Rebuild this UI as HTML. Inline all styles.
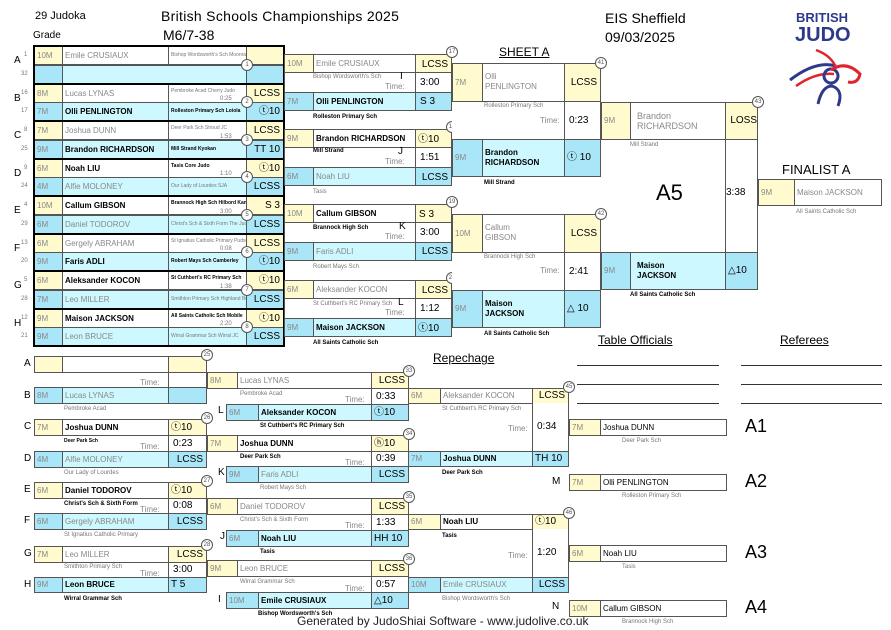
<!DOCTYPE html>
<html><head><meta charset="utf-8"><style>
*{margin:0;padding:0}
body{width:891px;height:630px;position:relative;background:#fff;font-family:"Liberation Sans",sans-serif;overflow:hidden}
div{position:absolute}
.c{box-sizing:border-box;border:1px solid #555;overflow:hidden;white-space:nowrap;font-size:8px;padding-left:2px;color:#000}
.y{background:#fffbcf}.w{background:#fff}.l{background:#cdf8ff}.d{background:#a9e6f7}
.gr{color:#888}.b{font-weight:bold}
.sc{text-align:right;padding-right:3px;font-size:10px}
.t{white-space:nowrap;font-size:6px;color:#777}
.tb{white-space:nowrap;font-size:6px;font-weight:bold;color:#000}
.o{width:10px;height:10px;border:1px solid #555;border-radius:50%;background:#fff;font-size:6px;text-align:center;line-height:10px;color:#555}
.k{box-sizing:border-box;border:2px solid #000}
.lt{font-size:10px;color:#000}
.tm{font-size:8px;color:#888;text-align:right;white-space:nowrap}
.tv{box-sizing:border-box;border:1px solid #555;background:#fff;font-size:10px;padding-left:4px}
.hl{height:1px;background:#333}
.vl{width:1px;background:#555}
</style></head><body>

<div style="left:35px;top:10px;font-size:11px">29 Judoka</div>
<div style="left:161px;top:8px;font-size:14px;letter-spacing:0.3px">British Schools Championships 2025</div>
<div style="left:163px;top:27px;font-size:14px">M6/7-38</div>
<div style="left:33px;top:30px;font-size:10px">Grade</div>
<div style="left:605px;top:10px;font-size:14px">EIS Sheffield</div>
<div style="left:605px;top:29px;font-size:14px">09/03/2025</div>
<div style="left:796px;top:10px;font-size:13px;font-weight:bold;color:#2d3a8c">BRITISH</div>
<div style="left:795px;top:24px;font-size:20px;font-weight:bold;color:#2d3a8c">JUDO</div>
<svg style="position:absolute;left:786px;top:46px" width="80" height="62" viewBox="0 0 80 62">
<path d="M4 34 Q30 14 50 20" stroke="#2d3a8c" stroke-width="3" fill="none"/>
<path d="M10 40 Q30 26 48 28" stroke="#e0232e" stroke-width="2.5" fill="none"/>
<path d="M30 4 Q46 10 50 22" stroke="#e0232e" stroke-width="2.5" fill="none"/>
<circle cx="45" cy="30" r="7" fill="none" stroke="#2d3a8c" stroke-width="3"/>
<path d="M45 24 Q60 14 74 28 Q72 38 62 36" stroke="#e0232e" stroke-width="3" fill="none"/>
<path d="M32 58 Q36 40 46 40 Q58 44 52 60" stroke="#2d3a8c" stroke-width="3" fill="none"/>
</svg>
<div style="left:499px;top:45px;font-size:12px;text-decoration:underline">SHEET A</div>

<!-- Round 1 -->
<div class="lt" style="left:14px;top:55px">A</div>
<div class="lt" style="left:14px;top:93px">B</div>
<div class="lt" style="left:14px;top:130px">C</div>
<div class="lt" style="left:14px;top:168px">D</div>
<div class="lt" style="left:14px;top:205px">E</div>
<div class="lt" style="left:14px;top:243px">F</div>
<div class="lt" style="left:14px;top:280px">G</div>
<div class="lt" style="left:14px;top:318px">H</div>

<!-- pair A -->
<div class="t" style="left:24px;top:52px">1</div><div class="t" style="left:21px;top:71px">32</div>
<div class="c y gr" style="left:34px;top:46px;width:29px;height:19px;line-height:17px">10M</div>
<div class="c w gr" style="left:62px;top:46px;width:107px;height:19px;line-height:17px">Emile CRUSIAUX</div>
<div class="c w t" style="left:168px;top:46px;width:79px;height:19px;line-height:17px;font-size:5px">Bishop Wordsworth's Sch Moonrakers JC</div>
<div class="c y" style="left:246px;top:46px;width:38px;height:19px"></div>
<div class="c d" style="left:34px;top:65px;width:29px;height:19px"></div>
<div class="c l" style="left:62px;top:65px;width:185px;height:19px"></div>
<div class="c d" style="left:246px;top:65px;width:38px;height:19px"></div>
<div class="o" style="left:241px;top:59px">1</div>
<div class="k" style="left:33px;top:45px;width:252px;height:40px"></div>
<!-- pair B -->
<div class="t" style="left:21px;top:90px">16</div><div class="t" style="left:21px;top:108px">17</div>
<div class="c y gr" style="left:34px;top:84px;width:29px;height:19px;line-height:17px">8M</div>
<div class="c w gr" style="left:62px;top:84px;width:107px;height:19px;line-height:17px">Lucas LYNAS</div>
<div class="c w t" style="left:168px;top:84px;width:79px;height:19px;line-height:12px;font-size:5px">Pembroke Acad Cherry Judo</div>
<div class="c y sc" style="left:246px;top:84px;width:38px;height:19px;line-height:17px">LCSS</div>
<div class="c d gr" style="left:34px;top:102px;width:29px;height:19px;line-height:17px">7M</div>
<div class="c l b" style="left:62px;top:102px;width:107px;height:19px;line-height:17px">Olli PENLINGTON</div>
<div class="c l tb" style="left:168px;top:102px;width:79px;height:19px;line-height:17px;font-size:5px">Rolleston Primary Sch Loiola</div>
<div class="c d sc" style="left:246px;top:102px;width:38px;height:19px;line-height:17px">ⓣ10</div>
<div class="t" style="left:220px;top:96px">0:25</div><div class="o" style="left:241px;top:96px">2</div>
<div class="k" style="left:33px;top:83px;width:252px;height:39px"></div>
<!-- pair C -->
<div class="t" style="left:24px;top:127px">8</div><div class="t" style="left:21px;top:146px">25</div>
<div class="c y gr" style="left:34px;top:121px;width:29px;height:19px;line-height:17px">7M</div>
<div class="c w gr" style="left:62px;top:121px;width:107px;height:19px;line-height:17px">Joshua DUNN</div>
<div class="c w t" style="left:168px;top:121px;width:79px;height:19px;line-height:12px;font-size:5px">Deer Park Sch Stroud JC</div>
<div class="c y sc" style="left:246px;top:121px;width:38px;height:19px;line-height:17px">LCSS</div>
<div class="c d gr" style="left:34px;top:140px;width:29px;height:19px;line-height:17px">9M</div>
<div class="c l b" style="left:62px;top:140px;width:107px;height:19px;line-height:17px">Brandon RICHARDSON</div>
<div class="c l tb" style="left:168px;top:140px;width:79px;height:19px;line-height:17px;font-size:5px">Mill Strand Kyokan</div>
<div class="c d sc" style="left:246px;top:140px;width:38px;height:19px;line-height:17px">TT 10</div>
<div class="t" style="left:220px;top:134px">1:53</div><div class="o" style="left:241px;top:134px">3</div>
<div class="k" style="left:33px;top:120px;width:252px;height:40px"></div>
<!-- pair D -->
<div class="t" style="left:24px;top:165px">9</div><div class="t" style="left:21px;top:183px">24</div>
<div class="c y gr" style="left:34px;top:159px;width:29px;height:19px;line-height:17px">6M</div>
<div class="c w b" style="left:62px;top:159px;width:107px;height:19px;line-height:17px">Noah LIU</div>
<div class="c w tb" style="left:168px;top:159px;width:79px;height:19px;line-height:12px;font-size:5px">Tasis Core Judo</div>
<div class="c y sc" style="left:246px;top:159px;width:38px;height:19px;line-height:17px">ⓣ10</div>
<div class="c d gr" style="left:34px;top:177px;width:29px;height:19px;line-height:17px">4M</div>
<div class="c l gr" style="left:62px;top:177px;width:107px;height:19px;line-height:17px">Alfie MOLONEY</div>
<div class="c l t" style="left:168px;top:177px;width:79px;height:19px;line-height:17px;font-size:5px">Our Lady of Lourdes SJA</div>
<div class="c d sc" style="left:246px;top:177px;width:38px;height:19px;line-height:17px">LCSS</div>
<div class="t" style="left:220px;top:171px">1:10</div><div class="o" style="left:241px;top:171px">4</div>
<div class="k" style="left:33px;top:158px;width:252px;height:39px"></div>
<!-- pair E -->
<div class="t" style="left:24px;top:202px">4</div><div class="t" style="left:21px;top:221px">29</div>
<div class="c y gr" style="left:34px;top:196px;width:29px;height:19px;line-height:17px">10M</div>
<div class="c w b" style="left:62px;top:196px;width:107px;height:19px;line-height:17px">Callum GIBSON</div>
<div class="c w tb" style="left:168px;top:196px;width:79px;height:19px;line-height:12px;font-size:5px">Brannock High Sch Hilbord Kanoc</div>
<div class="c y sc" style="left:246px;top:196px;width:38px;height:19px;line-height:17px">S 3</div>
<div class="c d gr" style="left:34px;top:215px;width:29px;height:19px;line-height:17px">6M</div>
<div class="c l gr" style="left:62px;top:215px;width:107px;height:19px;line-height:17px">Daniel TODOROV</div>
<div class="c l t" style="left:168px;top:215px;width:79px;height:19px;line-height:17px;font-size:5px">Christ's Sch &amp; Sixth Form The Judo</div>
<div class="c d sc" style="left:246px;top:215px;width:38px;height:19px;line-height:17px">LCSS</div>
<div class="t" style="left:220px;top:209px">3:00</div><div class="o" style="left:241px;top:209px">5</div>
<div class="k" style="left:33px;top:195px;width:252px;height:40px"></div>
<!-- pair F -->
<div class="t" style="left:21px;top:240px">13</div><div class="t" style="left:21px;top:258px">20</div>
<div class="c y gr" style="left:34px;top:234px;width:29px;height:19px;line-height:17px">6M</div>
<div class="c w gr" style="left:62px;top:234px;width:107px;height:19px;line-height:17px">Gergely ABRAHAM</div>
<div class="c w t" style="left:168px;top:234px;width:79px;height:19px;line-height:12px;font-size:5px">St Ignatius Catholic Primary Pudsey</div>
<div class="c y sc" style="left:246px;top:234px;width:38px;height:19px;line-height:17px">LCSS</div>
<div class="c d gr" style="left:34px;top:252px;width:29px;height:19px;line-height:17px">9M</div>
<div class="c l b" style="left:62px;top:252px;width:107px;height:19px;line-height:17px">Faris ADLI</div>
<div class="c l tb" style="left:168px;top:252px;width:79px;height:19px;line-height:17px;font-size:5px">Robert Mays Sch Camberley</div>
<div class="c d sc" style="left:246px;top:252px;width:38px;height:19px;line-height:17px">ⓣ10</div>
<div class="t" style="left:220px;top:246px">0:08</div><div class="o" style="left:241px;top:246px">6</div>
<div class="k" style="left:33px;top:233px;width:252px;height:39px"></div>
<!-- pair G -->
<div class="t" style="left:24px;top:277px">5</div><div class="t" style="left:21px;top:296px">28</div>
<div class="c y gr" style="left:34px;top:271px;width:29px;height:19px;line-height:17px">6M</div>
<div class="c w b" style="left:62px;top:271px;width:107px;height:19px;line-height:17px">Aleksander KOCON</div>
<div class="c w tb" style="left:168px;top:271px;width:79px;height:19px;line-height:12px;font-size:5px">St Cuthbert's RC Primary Sch</div>
<div class="c y sc" style="left:246px;top:271px;width:38px;height:19px;line-height:17px">ⓣ10</div>
<div class="c d gr" style="left:34px;top:290px;width:29px;height:19px;line-height:17px">7M</div>
<div class="c l gr" style="left:62px;top:290px;width:107px;height:19px;line-height:17px">Leo MILLER</div>
<div class="c l t" style="left:168px;top:290px;width:79px;height:19px;line-height:17px;font-size:5px">Smithton Primary Sch Highland Bud</div>
<div class="c d sc" style="left:246px;top:290px;width:38px;height:19px;line-height:17px">LCSS</div>
<div class="t" style="left:220px;top:284px">1:38</div><div class="o" style="left:241px;top:284px">7</div>
<div class="k" style="left:33px;top:270px;width:252px;height:40px"></div>
<!-- pair H -->
<div class="t" style="left:21px;top:315px">12</div><div class="t" style="left:21px;top:333px">21</div>
<div class="c y gr" style="left:34px;top:309px;width:29px;height:19px;line-height:17px">9M</div>
<div class="c w b" style="left:62px;top:309px;width:107px;height:19px;line-height:17px">Maison JACKSON</div>
<div class="c w tb" style="left:168px;top:309px;width:79px;height:19px;line-height:12px;font-size:5px">All Saints Catholic Sch Mobile</div>
<div class="c y sc" style="left:246px;top:309px;width:38px;height:19px;line-height:17px">ⓣ10</div>
<div class="c d gr" style="left:34px;top:327px;width:29px;height:19px;line-height:17px">9M</div>
<div class="c l gr" style="left:62px;top:327px;width:107px;height:19px;line-height:17px">Leon BRUCE</div>
<div class="c l t" style="left:168px;top:327px;width:79px;height:19px;line-height:17px;font-size:5px">Wirral Grammar Sch Wirral JC</div>
<div class="c d sc" style="left:246px;top:327px;width:38px;height:19px;line-height:17px">LCSS</div>
<div class="t" style="left:220px;top:321px">2:20</div><div class="o" style="left:241px;top:321px">8</div>
<div class="k" style="left:33px;top:308px;width:252px;height:39px"></div>

<!-- Round 2 -->
<!-- 17 -->
<div class="c y gr" style="left:284px;top:54px;width:30px;height:19px;line-height:17px">10M</div>
<div class="c w gr" style="left:313px;top:54px;width:103px;height:19px;line-height:17px">Emile CRUSIAUX</div>
<div class="c y sc" style="left:415px;top:54px;width:37px;height:19px;line-height:20px">LCSS</div>
<div class="c w" style="left:284px;top:72px;width:168px;height:21px"></div>
<div class="t" style="left:313px;top:74px">Bishop Wordsworth's Sch</div>
<div class="lt" style="left:400px;top:71px">I</div><div class="tm" style="left:385px;top:82px">Time:</div>
<div class="tv" style="left:415px;top:72px;width:37px;height:21px;line-height:19px">3:00</div>
<div class="c d gr" style="left:284px;top:92px;width:30px;height:19px;line-height:17px">7M</div>
<div class="c l b" style="left:313px;top:92px;width:103px;height:19px;line-height:17px">Olli PENLINGTON</div>
<div class="c d sc" style="left:415px;top:92px;width:37px;height:19px;line-height:17px;text-align:left;padding-left:4px">S 3</div>
<div class="tb" style="left:313px;top:114px">Rolleston Primary Sch</div>
<div class="o" style="left:446px;top:46px">17</div>
<!-- 18 -->
<div class="c y b" style="left:284px;top:129px;width:30px;height:19px;line-height:17px;font-weight:normal;color:#888">9M</div>
<div class="c w b" style="left:313px;top:129px;width:103px;height:19px;line-height:17px">Brandon RICHARDSON</div>
<div class="c y sc" style="left:415px;top:129px;width:37px;height:19px;line-height:20px;text-align:left;padding-left:2px">ⓣ10</div>
<div class="c w" style="left:284px;top:147px;width:168px;height:21px"></div>
<div class="tb" style="left:313px;top:148px">Mill Strand</div>
<div class="lt" style="left:398px;top:146px">J</div><div class="tm" style="left:385px;top:157px">Time:</div>
<div class="tv" style="left:415px;top:147px;width:37px;height:21px;line-height:19px">1:51</div>
<div class="c d gr" style="left:284px;top:167px;width:30px;height:19px;line-height:17px">6M</div>
<div class="c l gr" style="left:313px;top:167px;width:103px;height:19px;line-height:17px">Noah LIU</div>
<div class="c d sc" style="left:415px;top:167px;width:37px;height:19px;line-height:20px">LCSS</div>
<div class="t" style="left:313px;top:189px">Tasis</div>
<div class="o" style="left:446px;top:121px">18</div>
<div class="lt" style="left:455px;top:115px">M</div>
<!-- 19 -->
<div class="c y gr" style="left:284px;top:204px;width:30px;height:19px;line-height:17px">10M</div>
<div class="c w b" style="left:313px;top:204px;width:103px;height:19px;line-height:17px">Callum GIBSON</div>
<div class="c y sc" style="left:415px;top:204px;width:37px;height:19px;line-height:20px;text-align:left;padding-left:3px">S 3</div>
<div class="c w" style="left:284px;top:222px;width:168px;height:21px"></div>
<div class="tb" style="left:313px;top:225px">Brannock High Sch</div>
<div class="lt" style="left:399px;top:221px">K</div><div class="tm" style="left:385px;top:232px">Time:</div>
<div class="tv" style="left:415px;top:222px;width:37px;height:21px;line-height:19px">3:00</div>
<div class="c d gr" style="left:284px;top:242px;width:30px;height:19px;line-height:17px">9M</div>
<div class="c l gr" style="left:313px;top:242px;width:103px;height:19px;line-height:17px">Faris ADLI</div>
<div class="c d sc" style="left:415px;top:242px;width:37px;height:19px;line-height:17px">LCSS</div>
<div class="t" style="left:313px;top:264px">Robert Mays Sch</div>
<div class="o" style="left:446px;top:196px">19</div>
<div class="lt" style="left:455px;top:266px">N</div>
<!-- 20 -->
<div class="c y gr" style="left:284px;top:280px;width:30px;height:19px;line-height:17px">6M</div>
<div class="c w gr" style="left:313px;top:280px;width:103px;height:19px;line-height:17px">Aleksander KOCON</div>
<div class="c y sc" style="left:415px;top:280px;width:37px;height:19px;line-height:20px">LCSS</div>
<div class="c w" style="left:284px;top:298px;width:168px;height:21px"></div>
<div class="t" style="left:313px;top:301px">St Cuthbert's RC Primary Sch</div>
<div class="lt" style="left:398px;top:297px">L</div><div class="tm" style="left:385px;top:308px">Time:</div>
<div class="tv" style="left:415px;top:298px;width:37px;height:21px;line-height:19px">1:12</div>
<div class="c d gr" style="left:284px;top:318px;width:30px;height:19px;line-height:17px">9M</div>
<div class="c l b" style="left:313px;top:318px;width:103px;height:19px;line-height:17px">Maison JACKSON</div>
<div class="c d sc" style="left:415px;top:318px;width:37px;height:19px;line-height:20px;text-align:left;padding-left:2px">ⓣ10</div>
<div class="tb" style="left:313px;top:340px">All Saints Catholic Sch</div>
<div class="o" style="left:446px;top:272px">20</div>

<!-- Round 3 -->
<!-- 41 -->
<div class="c y gr" style="left:452px;top:63px;width:31px;height:39px;line-height:37px">7M</div>
<div class="c w gr" style="left:482px;top:63px;width:83px;height:39px;padding-top:8px;line-height:10px;white-space:normal">Olli<br>PENLINGTON</div>
<div class="c y sc" style="left:564px;top:63px;width:37px;height:39px;line-height:37px">LCSS</div>
<div class="c w" style="left:452px;top:101px;width:149px;height:39px;border-left:none"></div>
<div class="t" style="left:484px;top:103px">Rolleston Primary Sch</div>
<div class="tm" style="left:540px;top:116px">Time:</div>
<div class="tv" style="left:564px;top:101px;width:37px;height:39px;line-height:37px">0:23</div>
<div class="c d gr" style="left:452px;top:139px;width:31px;height:38px;line-height:36px">9M</div>
<div class="c l b" style="left:482px;top:139px;width:83px;height:38px;padding-top:8px;line-height:10px;white-space:normal">Brandon<br>RICHARDSON</div>
<div class="c d sc" style="left:564px;top:139px;width:37px;height:38px;line-height:36px;text-align:left;padding-left:2px">ⓣ 10</div>
<div class="tb" style="left:484px;top:180px">Mill Strand</div>
<div class="o" style="left:595px;top:57px">41</div>
<!-- 42 -->
<div class="c y gr" style="left:452px;top:214px;width:31px;height:39px;line-height:37px">10M</div>
<div class="c w gr" style="left:482px;top:214px;width:83px;height:39px;padding-top:8px;line-height:10px;white-space:normal">Callum<br>GIBSON</div>
<div class="c y sc" style="left:564px;top:214px;width:37px;height:39px;line-height:37px">LCSS</div>
<div class="c w" style="left:452px;top:252px;width:149px;height:39px;border-left:none"></div>
<div class="t" style="left:484px;top:254px">Brannock High Sch</div>
<div class="tm" style="left:540px;top:266px">Time:</div>
<div class="tv" style="left:564px;top:252px;width:37px;height:39px;line-height:37px">2:41</div>
<div class="c d gr" style="left:452px;top:290px;width:31px;height:38px;line-height:36px">9M</div>
<div class="c l b" style="left:482px;top:290px;width:83px;height:38px;padding-top:8px;line-height:10px;white-space:normal">Maison<br>JACKSON</div>
<div class="c d sc" style="left:564px;top:290px;width:37px;height:38px;line-height:36px;text-align:left;padding-left:2px">△ 10</div>
<div class="tb" style="left:484px;top:331px">All Saints Catholic Sch</div>
<div class="o" style="left:595px;top:208px">42</div>

<!-- Round 4 -->
<div class="c y gr" style="left:601px;top:102px;width:30px;height:38px;line-height:36px">9M</div>
<div class="c w gr" style="left:630px;top:102px;width:96px;height:38px;padding-top:8px;padding-left:6px;line-height:10px;white-space:normal;font-size:9px">Brandon<br>RICHARDSON</div>
<div class="c y sc" style="left:725px;top:102px;width:33px;height:38px;line-height:36px;padding-right:0">LOSS</div>
<div class="vl" style="left:725px;top:139px;height:114px"></div>
<div class="vl" style="left:757px;top:139px;height:114px"></div>
<div class="t" style="left:630px;top:142px">Mill Strand</div>
<div style="left:656px;top:180px;font-size:22px">A5</div>
<div style="left:726px;top:187px;font-size:10px">3:38</div>
<div class="c d gr" style="left:601px;top:252px;width:30px;height:38px;line-height:36px">9M</div>
<div class="c l b" style="left:630px;top:252px;width:96px;height:38px;padding-top:8px;padding-left:6px;line-height:10px;white-space:normal">Maison<br>JACKSON</div>
<div class="c d sc" style="left:725px;top:252px;width:33px;height:38px;line-height:36px;text-align:left;padding-left:2px">△10</div>
<div class="tb" style="left:630px;top:292px">All Saints Catholic Sch</div>
<div class="o" style="left:752px;top:96px">43</div>

<div style="left:782px;top:162px;font-size:13px">FINALIST A</div>
<div class="c y gr" style="left:758px;top:179px;width:37px;height:27px;line-height:25px">9M</div>
<div class="c w gr" style="left:794px;top:179px;width:88px;height:27px;line-height:25px">Maison JACKSON</div>
<div class="t" style="left:796px;top:209px">All Saints Catholic Sch</div>

<!-- Repechage header / officials -->
<div style="left:433px;top:351px;font-size:12px;text-decoration:underline">Repechage</div>
<div style="left:598px;top:333px;font-size:12px;text-decoration:underline">Table Officials</div>
<div style="left:780px;top:333px;font-size:12px;text-decoration:underline">Referees</div>
<div class="hl" style="left:577px;top:365px;width:142px"></div>
<div class="hl" style="left:577px;top:384px;width:142px"></div>
<div class="hl" style="left:577px;top:403px;width:142px"></div>
<div class="hl" style="left:741px;top:365px;width:141px"></div>
<div class="hl" style="left:741px;top:384px;width:141px"></div>
<div class="hl" style="left:741px;top:403px;width:141px"></div>

<!-- Repechage col 1 -->
<div class="lt" style="left:24px;top:358px">A</div>
<div class="c y" style="left:34px;top:356px;width:29px;height:17px"></div>
<div class="c w" style="left:62px;top:356px;width:107px;height:17px"></div>
<div class="c y" style="left:168px;top:356px;width:39px;height:17px"></div>
<div class="vl" style="left:168px;top:372px;height:16px"></div><div class="vl" style="left:206px;top:372px;height:16px"></div>
<div class="tm" style="left:140px;top:378px">Time:</div>
<div class="lt" style="left:24px;top:390px">B</div>
<div class="c d gr" style="left:34px;top:387px;width:29px;height:17px;line-height:15px">8M</div>
<div class="c l gr" style="left:62px;top:387px;width:107px;height:17px;line-height:15px">Lucas LYNAS</div>
<div class="c d" style="left:168px;top:387px;width:39px;height:17px"></div>
<div class="t" style="left:64px;top:406px">Pembroke Acad</div>
<div class="o" style="left:201px;top:349px">25</div>

<div class="lt" style="left:24px;top:421px">C</div>
<div class="c y gr" style="left:34px;top:419px;width:29px;height:17px;line-height:15px">7M</div>
<div class="c w b" style="left:62px;top:419px;width:107px;height:17px;line-height:15px">Joshua DUNN</div>
<div class="c y sc" style="left:168px;top:419px;width:39px;height:17px;line-height:15px;text-align:left">ⓣ10</div>
<div class="tb" style="left:64px;top:438px;font-size:5px">Deer Park Sch</div>
<div class="tm" style="left:140px;top:442px">Time:</div>
<div class="tv" style="left:168px;top:435px;width:39px;height:17px;line-height:15px">0:23</div>
<div class="lt" style="left:24px;top:453px">D</div>
<div class="c d gr" style="left:34px;top:451px;width:29px;height:17px;line-height:15px">4M</div>
<div class="c l gr" style="left:62px;top:451px;width:107px;height:17px;line-height:15px">Alfie MOLONEY</div>
<div class="c d sc" style="left:168px;top:451px;width:39px;height:17px;line-height:15px">LCSS</div>
<div class="t" style="left:64px;top:470px">Our Lady of Lourdes</div>
<div class="o" style="left:201px;top:412px">26</div>

<div class="lt" style="left:24px;top:484px">E</div>
<div class="c y gr" style="left:34px;top:482px;width:29px;height:17px;line-height:15px">6M</div>
<div class="c w b" style="left:62px;top:482px;width:107px;height:17px;line-height:15px">Daniel TODOROV</div>
<div class="c y sc" style="left:168px;top:482px;width:39px;height:17px;line-height:15px;text-align:left">ⓣ10</div>
<div class="tb" style="left:64px;top:501px">Christ's Sch &amp; Sixth Form</div>
<div class="tm" style="left:140px;top:505px">Time:</div>
<div class="tv" style="left:168px;top:498px;width:39px;height:16px;line-height:14px">0:08</div>
<div class="lt" style="left:24px;top:515px">F</div>
<div class="c d gr" style="left:34px;top:513px;width:29px;height:17px;line-height:15px">6M</div>
<div class="c l gr" style="left:62px;top:513px;width:107px;height:17px;line-height:15px">Gergely ABRAHAM</div>
<div class="c d sc" style="left:168px;top:513px;width:39px;height:17px;line-height:15px">LCSS</div>
<div class="t" style="left:64px;top:532px">St Ignatius Catholic Primary</div>
<div class="o" style="left:201px;top:475px">27</div>

<div class="lt" style="left:24px;top:548px">G</div>
<div class="c y gr" style="left:34px;top:546px;width:29px;height:17px;line-height:15px">7M</div>
<div class="c w gr" style="left:62px;top:546px;width:107px;height:17px;line-height:15px">Leo MILLER</div>
<div class="c y sc" style="left:168px;top:546px;width:39px;height:17px;line-height:15px">LCSS</div>
<div class="t" style="left:64px;top:564px">Smithton Primary Sch</div>
<div class="tm" style="left:140px;top:569px">Time:</div>
<div class="tv" style="left:168px;top:562px;width:39px;height:16px;line-height:14px">3:00</div>
<div class="lt" style="left:24px;top:579px">H</div>
<div class="c d gr" style="left:34px;top:577px;width:29px;height:16px;line-height:14px">9M</div>
<div class="c l b" style="left:62px;top:577px;width:107px;height:16px;line-height:14px">Leon BRUCE</div>
<div class="c d sc" style="left:168px;top:577px;width:39px;height:16px;line-height:14px;text-align:left">T 5</div>
<div class="tb" style="left:64px;top:596px">Wirral Grammar Sch</div>
<div class="o" style="left:201px;top:539px">28</div>

<!-- Repechage col 2 -->
<div class="c y gr" style="left:207px;top:372px;width:31px;height:17px;line-height:15px">8M</div>
<div class="c w gr" style="left:237px;top:372px;width:135px;height:17px;line-height:15px">Lucas LYNAS</div>
<div class="c y sc" style="left:371px;top:372px;width:38px;height:17px;line-height:15px">LCSS</div>
<div class="t" style="left:240px;top:391px">Pembroke Acad</div>
<div class="tm" style="left:345px;top:395px">Time:</div>
<div class="tv" style="left:371px;top:388px;width:38px;height:17px;line-height:15px">0:33</div>
<div class="lt" style="left:218px;top:405px">L</div>
<div class="c d gr" style="left:226px;top:404px;width:33px;height:17px;line-height:15px">6M</div>
<div class="c l b" style="left:258px;top:404px;width:114px;height:17px;line-height:15px">Aleksander KOCON</div>
<div class="c d sc" style="left:371px;top:404px;width:38px;height:17px;line-height:15px;text-align:left">ⓣ10</div>
<div class="tb" style="left:260px;top:423px">St Cuthbert's RC Primary Sch</div>
<div class="o" style="left:403px;top:365px">33</div>

<div class="c y gr" style="left:207px;top:435px;width:31px;height:17px;line-height:15px">7M</div>
<div class="c w b" style="left:237px;top:435px;width:135px;height:17px;line-height:15px">Joshua DUNN</div>
<div class="c y sc" style="left:371px;top:435px;width:38px;height:17px;line-height:15px;text-align:left">ⓗ10</div>
<div class="tb" style="left:240px;top:454px">Deer Park Sch</div>
<div class="tm" style="left:345px;top:458px">Time:</div>
<div class="tv" style="left:371px;top:451px;width:38px;height:16px;line-height:14px">0:39</div>
<div class="lt" style="left:218px;top:467px">K</div>
<div class="c d gr" style="left:226px;top:466px;width:33px;height:17px;line-height:15px">9M</div>
<div class="c l gr" style="left:258px;top:466px;width:114px;height:17px;line-height:15px">Faris ADLI</div>
<div class="c d sc" style="left:371px;top:466px;width:38px;height:17px;line-height:15px">LCSS</div>
<div class="t" style="left:260px;top:485px">Robert Mays Sch</div>
<div class="o" style="left:403px;top:428px">34</div>

<div class="c y gr" style="left:207px;top:498px;width:31px;height:17px;line-height:15px">6M</div>
<div class="c w gr" style="left:237px;top:498px;width:135px;height:17px;line-height:15px">Daniel TODOROV</div>
<div class="c y sc" style="left:371px;top:498px;width:38px;height:17px;line-height:15px">LCSS</div>
<div class="t" style="left:240px;top:517px">Christ's Sch &amp; Sixth Form</div>
<div class="tm" style="left:345px;top:521px">Time:</div>
<div class="tv" style="left:371px;top:514px;width:38px;height:17px;line-height:15px">1:33</div>
<div class="lt" style="left:220px;top:531px">J</div>
<div class="c d gr" style="left:226px;top:530px;width:33px;height:17px;line-height:15px">6M</div>
<div class="c l b" style="left:258px;top:530px;width:114px;height:17px;line-height:15px">Noah LIU</div>
<div class="c d sc" style="left:371px;top:530px;width:38px;height:17px;line-height:15px;text-align:left">HH 10</div>
<div class="tb" style="left:260px;top:549px">Tasis</div>
<div class="o" style="left:403px;top:491px">35</div>

<div class="c y gr" style="left:207px;top:560px;width:31px;height:17px;line-height:15px">9M</div>
<div class="c w gr" style="left:237px;top:560px;width:135px;height:17px;line-height:15px">Leon BRUCE</div>
<div class="c y sc" style="left:371px;top:560px;width:38px;height:17px;line-height:15px">LCSS</div>
<div class="t" style="left:240px;top:579px">Wirral Grammar Sch</div>
<div class="tm" style="left:345px;top:584px">Time:</div>
<div class="tv" style="left:371px;top:576px;width:38px;height:17px;line-height:15px">0:57</div>
<div class="lt" style="left:218px;top:594px">I</div>
<div class="c d gr" style="left:226px;top:592px;width:33px;height:17px;line-height:15px">10M</div>
<div class="c l b" style="left:258px;top:592px;width:114px;height:17px;line-height:15px">Emile CRUSIAUX</div>
<div class="c d sc" style="left:371px;top:592px;width:38px;height:17px;line-height:15px;text-align:left">△10</div>
<div class="tb" style="left:258px;top:611px">Bishop Wordsworth's Sch</div>
<div class="o" style="left:403px;top:553px">36</div>

<!-- Repechage col 3 -->
<div class="c y gr" style="left:408px;top:388px;width:33px;height:16px;line-height:14px">6M</div>
<div class="c w gr" style="left:440px;top:388px;width:93px;height:16px;line-height:14px">Aleksander KOCON</div>
<div class="c y sc" style="left:532px;top:388px;width:37px;height:16px;line-height:14px">LCSS</div>
<div class="vl" style="left:568px;top:403px;height:48px"></div>
<div class="t" style="left:442px;top:406px">St Cuthbert's RC Primary Sch</div>
<div class="tm" style="left:508px;top:424px">Time:</div>
<div class="tv" style="left:532px;top:403px;width:37px;height:49px;line-height:47px;border-top:none;border-bottom:none">0:34</div>
<div class="c d gr" style="left:408px;top:451px;width:33px;height:16px;line-height:14px">7M</div>
<div class="c l b" style="left:440px;top:451px;width:93px;height:16px;line-height:14px">Joshua DUNN</div>
<div class="c d sc" style="left:532px;top:451px;width:37px;height:16px;line-height:14px;text-align:left">TH 10</div>
<div class="tb" style="left:442px;top:470px">Deer Park Sch</div>
<div class="o" style="left:563px;top:381px">45</div>

<div class="c y gr" style="left:408px;top:514px;width:33px;height:16px;line-height:14px">6M</div>
<div class="c w b" style="left:440px;top:514px;width:93px;height:16px;line-height:14px">Noah LIU</div>
<div class="c y sc" style="left:532px;top:514px;width:37px;height:16px;line-height:14px;text-align:left">ⓣ10</div>
<div class="tb" style="left:442px;top:533px">Tasis</div>
<div class="tm" style="left:508px;top:551px">Time:</div>
<div class="tv" style="left:532px;top:529px;width:37px;height:49px;line-height:47px;border-top:none;border-bottom:none">1:20</div>
<div class="c d gr" style="left:408px;top:577px;width:33px;height:16px;line-height:14px">10M</div>
<div class="c l gr" style="left:440px;top:577px;width:93px;height:16px;line-height:14px">Emile CRUSIAUX</div>
<div class="c d sc" style="left:532px;top:577px;width:37px;height:16px;line-height:14px">LCSS</div>
<div class="t" style="left:442px;top:596px">Bishop Wordsworth's Sch</div>
<div class="o" style="left:563px;top:507px">46</div>

<!-- Results -->
<div class="c y gr" style="left:569px;top:419px;width:32px;height:17px;line-height:15px">7M</div>
<div class="c w" style="left:600px;top:419px;width:127px;height:17px;line-height:15px">Joshua DUNN</div>
<div class="t" style="left:622px;top:438px">Deer Park Sch</div>
<div style="left:745px;top:416px;font-size:18px">A1</div>
<div class="lt" style="left:552px;top:476px">M</div>
<div class="c y gr" style="left:569px;top:474px;width:32px;height:17px;line-height:15px">7M</div>
<div class="c w" style="left:600px;top:474px;width:127px;height:17px;line-height:15px">Olli PENLINGTON</div>
<div class="t" style="left:622px;top:493px">Rolleston Primary Sch</div>
<div style="left:745px;top:471px;font-size:18px">A2</div>
<div class="c y gr" style="left:569px;top:545px;width:32px;height:17px;line-height:15px">6M</div>
<div class="c w" style="left:600px;top:545px;width:127px;height:17px;line-height:15px">Noah LIU</div>
<div class="t" style="left:622px;top:564px">Tasis</div>
<div style="left:745px;top:542px;font-size:18px">A3</div>
<div class="lt" style="left:552px;top:601px">N</div>
<div class="c y gr" style="left:569px;top:600px;width:32px;height:17px;line-height:15px">10M</div>
<div class="c w" style="left:600px;top:600px;width:127px;height:17px;line-height:15px">Callum GIBSON</div>
<div class="t" style="left:622px;top:619px">Brannock High Sch</div>
<div style="left:745px;top:597px;font-size:18px">A4</div>

<div style="left:297px;top:614px;font-size:12px;color:#222;white-space:nowrap">Generated by JudoShiai Software - www.judolive.co.uk</div>
</body></html>
